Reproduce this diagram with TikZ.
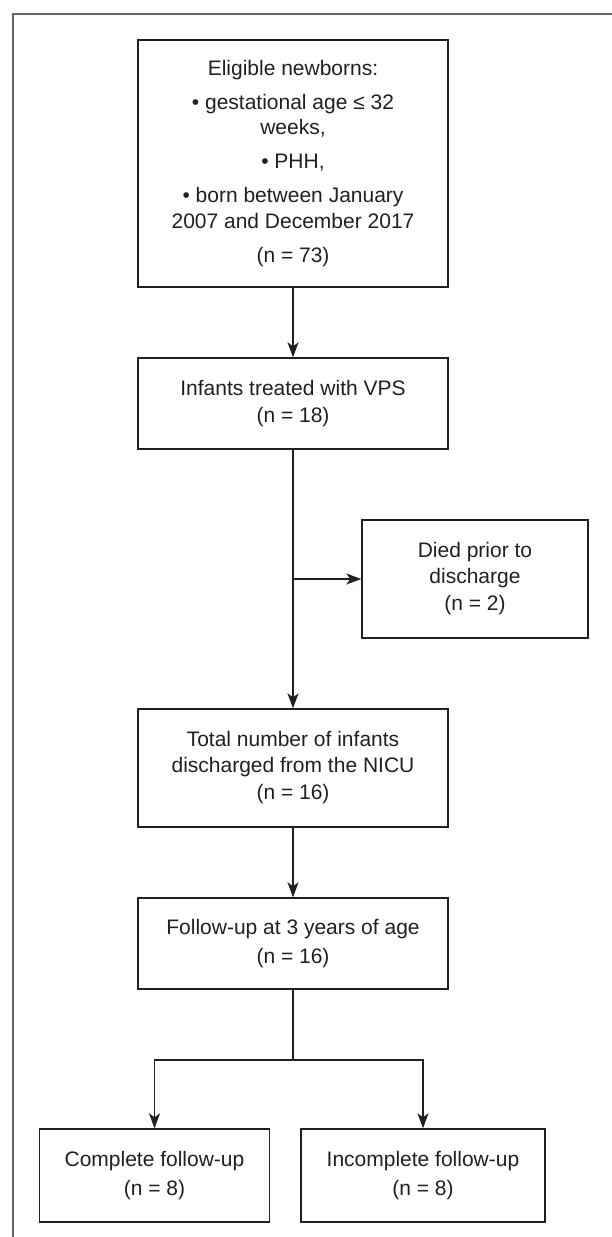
\documentclass[tikz,border=0pt]{standalone}
\usepackage{fontspec}
\setmainfont{Liberation Sans}
\usetikzlibrary{arrows.meta}
\definecolor{ink}{HTML}{231F20}
\definecolor{framegray}{HTML}{666666}
\begin{document}
\begin{tikzpicture}[x=1pt,y=-1pt,
  box/.style={draw=ink, line width=1.4pt, rectangle, inner sep=0pt, align=center, text=ink,
              font=\fontsize{21}{25.5}\selectfont},
  conn/.style={draw=ink, line width=1.3pt},
  arr/.style={conn, -{Stealth[length=15pt,width=11pt,inset=4pt]}}]
\useasboundingbox (0,0) rectangle (612,1237);
\draw[framegray, line width=2pt] (13,1237) -- (13,14) -- (612,14);

\node[box, minimum width=310pt, minimum height=247pt] (b1) at (293,163.5)
  {Eligible newborns:\\[8.5pt]
   • gestational age ≤ 32\\
   weeks,\\[8.5pt]
   • PHH,\\[8.5pt]
   • born between January\\
   2007 and December 2017\\[8.5pt]
   (n = 73)};
\node[box, minimum width=310pt, minimum height=91pt] (b2) at (293,403.5)
  {Infants treated with VPS\\[2pt] (n = 18)};
\node[box, minimum width=226pt, minimum height=118pt] (died) at (475,579)
  {Died prior to\\ discharge\\[2pt] (n = 2)};
\node[box, minimum width=310pt, minimum height=118pt] (b3) at (293,768)
  {Total number of infants\\ discharged from the NICU\\[2pt] (n = 16)};
\node[box, minimum width=310pt, minimum height=91pt] (b4) at (293,943.5)
  {Follow-up at 3 years of age\\[3pt] (n = 16)};
\node[box, minimum width=230pt, minimum height=93pt] (b5) at (154.5,1175.5)
  {Complete follow-up\\[3pt] (n = 8)};
\node[box, minimum width=244pt, minimum height=93pt] (b6) at (423,1175.5)
  {Incomplete follow-up\\[3pt] (n = 8)};

\coordinate (br) at (293,579);
\coordinate (sp) at (293,1060);

\draw[arr] (b1) -- (b2);
\draw[arr] (b2) -- (b3);
\draw[arr] (br) -- (died);
\draw[arr] (b3) -- (b4);
\draw[conn] (b4) -- (sp);
\draw[arr] (sp) -| (b5);
\draw[arr] (sp) -| (b6);
\end{tikzpicture}
\end{document}
